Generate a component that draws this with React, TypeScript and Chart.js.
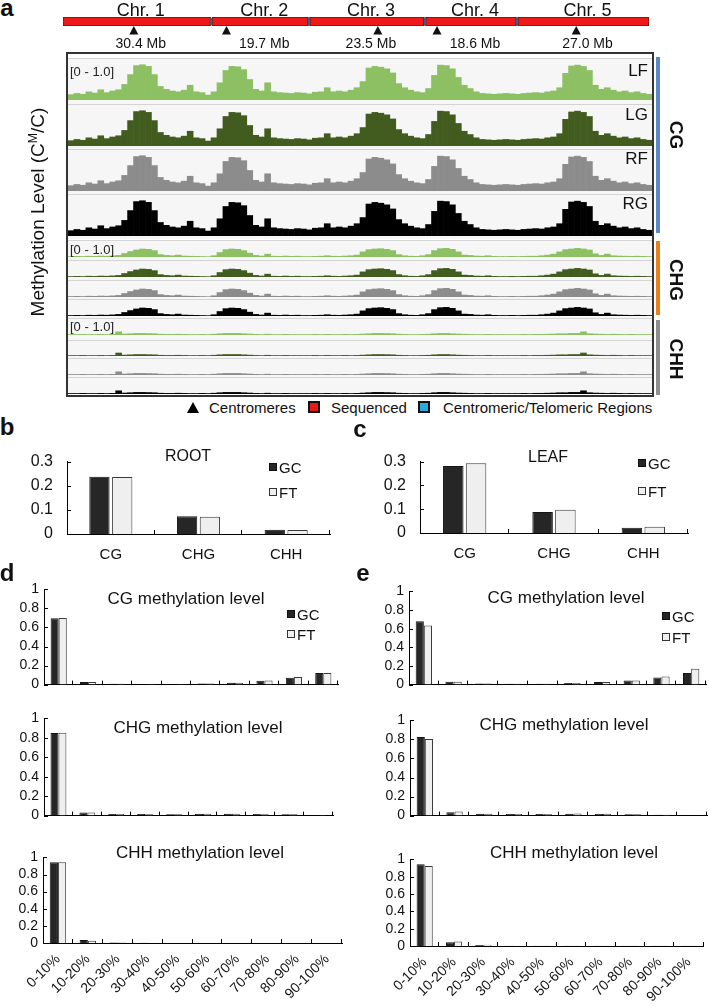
import React, { useEffect, useRef } from "react";
import { Chart, registerables } from "chart.js";

Chart.register(...registerables);

const FONT = "'Liberation Sans', Arial, Helvetica, sans-serif";

// ---------------- Panel a : chromosomes ----------------
const chrNames = ["Chr. 1", "Chr. 2", "Chr. 3", "Chr. 4", "Chr. 5"];
const chrLengthsMb = [30.4, 19.7, 23.5, 18.6, 27.0];
const centromereMb = [14.6, 2.9, 14.0, 2.3, 12.0];
const CHR_GAP = 0.4;

// ---------------- Panel a : methylation tracks (0-1, genome bins) ----------------
const trackNames = ["LF", "LG", "RF", "RG"];
const cgProfile = [
  0.13, 0.16, 0.14, 0.2, 0.17, 0.25, 0.18, 0.22, 0.25, 0.38,
  0.62, 0.84, 0.86, 0.82, 0.62, 0.33, 0.26, 0.22, 0.2, 0.24,
  0.36, 0.2, 0.18, 0.12, 0.2, 0.42, 0.72, 0.82, 0.81, 0.74,
  0.5, 0.26, 0.22, 0.42, 0.2, 0.18, 0.17, 0.16, 0.18, 0.17,
  0.15, 0.19, 0.2, 0.3, 0.2, 0.22, 0.2, 0.24, 0.3, 0.45,
  0.78, 0.82, 0.8, 0.76, 0.66, 0.4, 0.3, 0.24, 0.2, 0.18,
  0.28, 0.6, 0.85, 0.84, 0.76, 0.55, 0.36, 0.28, 0.2, 0.16,
  0.15, 0.14, 0.15, 0.16, 0.15, 0.14, 0.16, 0.17, 0.18, 0.17,
  0.2, 0.22, 0.3, 0.65, 0.83, 0.85, 0.82, 0.72, 0.36, 0.26,
  0.3, 0.24, 0.2, 0.22, 0.18, 0.2, 0.16, 0.14,
];
const chgProfile = [
  0.03, 0.04, 0.03, 0.05, 0.04, 0.06, 0.05, 0.07, 0.1, 0.22,
  0.34, 0.44, 0.5, 0.48, 0.4, 0.15, 0.1, 0.08, 0.12, 0.06,
  0.05, 0.04, 0.03, 0.02, 0.08, 0.28, 0.46, 0.5, 0.48, 0.4,
  0.24, 0.1, 0.06, 0.18, 0.05, 0.04, 0.06, 0.04, 0.05, 0.03,
  0.03, 0.04, 0.05, 0.08, 0.05, 0.04, 0.06, 0.08, 0.12, 0.32,
  0.46, 0.5, 0.52, 0.48, 0.4, 0.15, 0.08, 0.05, 0.04, 0.08,
  0.15, 0.4, 0.52, 0.54, 0.48, 0.32, 0.12, 0.1, 0.06, 0.05,
  0.08, 0.04, 0.03, 0.03, 0.04, 0.03, 0.04, 0.05, 0.05, 0.08,
  0.12, 0.18, 0.32, 0.46, 0.5, 0.54, 0.5, 0.44, 0.2, 0.1,
  0.18, 0.08, 0.06, 0.05, 0.04, 0.05, 0.04, 0.03,
];
const chhProfile = [
  0.03, 0.03, 0.04, 0.03, 0.03, 0.04, 0.03, 0.04, 0.2, 0.06,
  0.08, 0.1, 0.1, 0.09, 0.08, 0.05, 0.04, 0.04, 0.05, 0.04,
  0.03, 0.03, 0.04, 0.03, 0.05, 0.08, 0.1, 0.1, 0.1, 0.08,
  0.06, 0.04, 0.03, 0.05, 0.03, 0.03, 0.04, 0.03, 0.03, 0.03,
  0.03, 0.04, 0.03, 0.04, 0.03, 0.03, 0.04, 0.03, 0.04, 0.06,
  0.08, 0.1, 0.1, 0.09, 0.08, 0.05, 0.04, 0.03, 0.03, 0.04,
  0.05, 0.08, 0.1, 0.1, 0.08, 0.06, 0.05, 0.04, 0.03, 0.03,
  0.04, 0.03, 0.03, 0.03, 0.03, 0.03, 0.04, 0.03, 0.04, 0.04,
  0.05, 0.06, 0.08, 0.08, 0.1, 0.1, 0.2, 0.08, 0.06, 0.05,
  0.04, 0.05, 0.04, 0.03, 0.04, 0.03, 0.03, 0.03,
];

// ---------------- Panels b, c ----------------
const contexts = ["CG", "CHG", "CHH"];
const rootGC = [0.237, 0.074, 0.018];
const rootFT = [0.236, 0.071, 0.017];
const leafGC = [0.282, 0.088, 0.022];
const leafFT = [0.293, 0.098, 0.026];

// ---------------- Panels d, e ----------------
const levelBins = ["0-10%", "10-20%", "20-30%", "30-40%", "40-50%", "50-60%", "60-70%", "70-80%", "80-90%", "90-100%"];
const rootCgGC = [0.698, 0.026, 0.01, 0.007, 0.006, 0.012, 0.02, 0.04, 0.072, 0.121];
const rootCgFT = [0.7, 0.026, 0.01, 0.007, 0.006, 0.012, 0.02, 0.043, 0.079, 0.121];
const rootChgGC = [0.85, 0.032, 0.016, 0.016, 0.013, 0.019, 0.019, 0.016, 0.013, 0.006];
const rootChgFT = [0.853, 0.032, 0.016, 0.013, 0.013, 0.019, 0.019, 0.013, 0.013, 0.005];
const rootChhGC = [0.943, 0.034, 0.005, 0.003, 0, 0, 0, 0, 0, 0];
const rootChhFT = [0.943, 0.027, 0.005, 0.003, 0, 0, 0, 0, 0, 0];
const leafCgGC = [0.68, 0.03, 0.013, 0.01, 0.01, 0.017, 0.027, 0.044, 0.077, 0.124];
const leafCgFT = [0.634, 0.03, 0.013, 0.01, 0.01, 0.017, 0.027, 0.044, 0.087, 0.171];
const leafChgGC = [0.826, 0.036, 0.02, 0.016, 0.016, 0.02, 0.016, 0.013, 0.01, 0.003];
const leafChgFT = [0.804, 0.042, 0.02, 0.016, 0.016, 0.023, 0.02, 0.013, 0.01, 0.003];
const leafChhGC = [0.943, 0.042, 0.011, 0.004, 0.002, 0.002, 0.002, 0.002, 0.002, 0.002];
const leafChhFT = [0.924, 0.053, 0.015, 0.004, 0.002, 0.002, 0.002, 0.002, 0.002, 0.002];

// ---------------- derived genome coordinates ----------------
const chrStarts: number[] = [];
{
  let acc = 0;
  chrLengthsMb.forEach((l) => {
    chrStarts.push(acc);
    acc += l + CHR_GAP;
  });
}
const genomeEnd = chrStarts[chrStarts.length - 1] + chrLengthsMb[chrLengthsMb.length - 1];

// ---------------- helpers ----------------
function ChartCanvas({ left, top, width, height, make }: any) {
  const ref = useRef<HTMLCanvasElement>(null);
  useEffect(() => {
    const c = new Chart(ref.current as HTMLCanvasElement, make());
    return () => c.destroy();
  }, []);
  return (
    <canvas
      ref={ref}
      width={width}
      height={height}
      style={{ position: "absolute", left, top, width, height }}
    />
  );
}

function Txt({ x, y, children, size = 15, bold = false, align = "center", rotate = 0, color = "#111" }: any) {
  const tx = align === "left" ? "0%" : align === "right" ? "-100%" : "-50%";
  return (
    <div
      style={{
        position: "absolute",
        left: x,
        top: y,
        transform: `translate(${tx}, -50%) rotate(${rotate}deg)`,
        whiteSpace: "nowrap",
        fontFamily: FONT,
        fontSize: size,
        fontWeight: bold ? 700 : 400,
        lineHeight: 1,
        color,
      }}
    >
      {children}
    </div>
  );
}

function Box({ x, y, w, h, bg, border }: any) {
  return (
    <div
      style={{
        position: "absolute",
        left: x,
        top: y,
        width: w,
        height: h,
        background: bg,
        border,
        boxSizing: "border-box",
      }}
    />
  );
}

const inwardTicks = {
  id: "inwardTicks",
  afterDatasetsDraw(chart: any) {
    const { ctx, chartArea: a } = chart;
    const xs = chart.scales.x;
    const ys = chart.scales.y;
    ctx.save();
    ctx.strokeStyle = "#000";
    ctx.lineWidth = 1;
    ctx.beginPath();
    ys.ticks.forEach((t: any) => {
      const py = Math.round(ys.getPixelForValue(t.value)) + 0.5;
      ctx.moveTo(a.left, py);
      ctx.lineTo(a.left + 4, py);
    });
    const n = xs.getLabels().length;
    const w = (a.right - a.left) / n;
    for (let i = 1; i <= n; i++) {
      const px = Math.round(a.left + i * w) - 0.5;
      ctx.moveTo(px, a.bottom);
      ctx.lineTo(px, a.bottom - 4);
    }
    ctx.stroke();
    ctx.restore();
  },
};

function methylBar(o: any) {
  const [cl, ct, cw, ch] = o.canvas;
  const [L, T, R, B] = o.area;
  return {
    type: "bar",
    data: {
      labels: o.labels,
      datasets: [
        {
          label: "GC",
          data: o.gc,
          backgroundColor: "#262626",
          borderColor: "#151515",
          borderWidth: 1,
          categoryPercentage: o.catPct,
          barPercentage: o.barPct,
        },
        {
          label: "FT",
          data: o.ft,
          backgroundColor: "#EFEFEF",
          borderColor: "#3a3a3a",
          borderWidth: 1,
          categoryPercentage: o.catPct,
          barPercentage: o.barPct,
        },
      ],
    },
    options: {
      animation: false,
      responsive: false,
      devicePixelRatio: 1,
      events: [],
      layout: { padding: { left: 0, top: T - ct, right: cl + cw - R, bottom: 0 } },
      plugins: { legend: { display: false }, tooltip: { enabled: false } },
      scales: {
        x: {
          grid: { display: false, drawTicks: false },
          border: { color: "#000", width: 1 },
          ticks: {
            display: o.showX,
            font: { family: FONT, size: o.xFont },
            color: "#111",
            padding: o.xPad,
            maxRotation: o.rotate,
            minRotation: o.rotate,
            autoSkip: false,
          },
          afterFit: (s: any) => {
            s.height = ct + ch - B;
          },
        },
        y: {
          min: 0,
          max: o.max,
          grid: { display: false, drawTicks: false },
          border: { color: "#000", width: 1 },
          ticks: {
            stepSize: o.step,
            autoSkip: false,
            font: { family: FONT, size: o.yFont },
            color: "#111",
            padding: o.yPad,
            callback: (v: any) => String(Math.round(Number(v) * 100) / 100),
          },
          afterFit: (s: any) => {
            s.width = L - cl;
          },
        },
      },
    },
    plugins: [inwardTicks],
  };
}

const ideogramLabels = {
  id: "ideogramLabels",
  afterDatasetsDraw(chart: any) {
    const { ctx } = chart;
    const xs = chart.scales.x;
    ctx.save();
    ctx.fillStyle = "#111";
    ctx.textAlign = "center";
    ctx.textBaseline = "middle";
    chrNames.forEach((name, i) => {
      const s = chrStarts[i];
      const e = s + chrLengthsMb[i];
      const cx = xs.getPixelForValue((s + e) / 2) + 4;
      ctx.font = `18px ${FONT}`;
      ctx.fillText(name, cx, 11);
      ctx.font = `14px ${FONT}`;
      ctx.fillText(`${chrLengthsMb[i].toFixed(1)} Mb`, cx, 44);
      const px = xs.getPixelForValue(s + centromereMb[i]);
      ctx.beginPath();
      ctx.moveTo(px, 26);
      ctx.lineTo(px - 4.5, 34.5);
      ctx.lineTo(px + 4.5, 34.5);
      ctx.closePath();
      ctx.fill();
    });
    ctx.restore();
  },
};

function ideogramConfig() {
  const arms = chrLengthsMb.map((l, i) => ({ x: [chrStarts[i], chrStarts[i] + l], y: "g" }));
  const caps: any[] = [];
  chrLengthsMb.forEach((l, i) => {
    const s = chrStarts[i];
    caps.push({ x: [s - 0.2, s + 0.7], y: "g" });
    caps.push({ x: [s + centromereMb[i] - 0.7, s + centromereMb[i] + 0.7], y: "g" });
    caps.push({ x: [s + l - 0.7, s + l + 0.2], y: "g" });
  });
  return {
    type: "bar",
    data: {
      labels: ["g"],
      datasets: [
        {
          data: arms,
          backgroundColor: "#EE1A1A",
          borderColor: "#7A1010",
          borderWidth: 1,
          borderSkipped: false,
          grouped: false,
          categoryPercentage: 1,
          barPercentage: 1,
        },
        {
          data: caps,
          backgroundColor: "#36A9E1",
          borderColor: "#1F5E8C",
          borderWidth: 1,
          borderSkipped: false,
          borderRadius: 3,
          grouped: false,
          categoryPercentage: 1,
          barPercentage: 1,
        },
      ],
    },
    options: {
      indexAxis: "y",
      animation: false,
      responsive: false,
      devicePixelRatio: 1,
      events: [],
      layout: { padding: { left: 63, right: 60, top: 17, bottom: 26 } },
      plugins: { legend: { display: false }, tooltip: { enabled: false } },
      scales: {
        x: { type: "linear", min: 0, max: genomeEnd, display: false },
        y: { type: "category", display: false },
      },
    },
    plugins: [ideogramLabels],
  };
}

function trackConfig(values: number[], color: string) {
  return {
    type: "bar",
    data: {
      labels: values.map((_, i) => String(i)),
      datasets: [
        {
          data: values,
          backgroundColor: color,
          borderWidth: 0,
          categoryPercentage: 1,
          barPercentage: 1,
        },
      ],
    },
    options: {
      animation: false,
      responsive: false,
      devicePixelRatio: 1,
      events: [],
      layout: { padding: 0 },
      plugins: { legend: { display: false }, tooltip: { enabled: false } },
      scales: {
        x: { display: false },
        y: { display: false, min: 0, max: 1 },
      },
    },
  };
}

// layout constants for panel a
const TRACK_LEFT = 68;
const TRACK_W = 584;
const trackColors = ["#8CC063", "#425C1F", "#8C8C8C", "#000000"];
const trackGroups = [
  { profile: cgProfile, tops: [58, 104, 149, 194], ends: [104, 149, 194, 239], barH: [41, 41, 41, 41] },
  { profile: chgProfile, tops: [240, 260, 280, 299], ends: [260, 280, 299, 318], barH: [16, 16, 16, 16] },
  { profile: chhProfile, tops: [318, 340, 358, 377], ends: [340, 358, 377, 394], barH: [16, 15, 16, 16] },
];

function GcFtLegend({ x, yGC, yFT, size = 15 }: any) {
  return (
    <>
      <Box x={x} y={yGC - 4} w={8} h={8} bg="#262626" border="1px solid #111" />
      <Txt x={x + 10} y={yGC} size={size} align="left">GC</Txt>
      <Box x={x} y={yFT - 4} w={8} h={8} bg="#EFEFEF" border="1px solid #333" />
      <Txt x={x + 10} y={yFT} size={size} align="left">FT</Txt>
    </>
  );
}

export default function App() {
  const tracks: any[] = [];
  trackGroups.forEach((g, gi) => {
    g.tops.forEach((top, ti) => {
      tracks.push(
        <div
          key={`bg${gi}-${ti}`}
          style={{
            position: "absolute",
            left: TRACK_LEFT,
            top,
            width: TRACK_W,
            height: g.ends[ti] - top,
            background: "#F6F6F6",
            borderTop: "1px solid #D4D4D4",
            boxSizing: "border-box",
          }}
        />
      );
      tracks.push(
        <ChartCanvas
          key={`tr${gi}-${ti}`}
          left={TRACK_LEFT}
          top={top + 1}
          width={TRACK_W}
          height={g.barH[ti]}
          make={() => trackConfig(g.profile, trackColors[ti])}
        />
      );
    });
  });

  return (
    <div
      style={{
        position: "absolute",
        left: 0,
        top: 0,
        width: 709,
        height: 1007,
        background: "#fff",
        overflow: "hidden",
      }}
    >
      {/* ---------- panel a ---------- */}
      <Txt x={7} y={8} size={24} bold>a</Txt>
      <ChartCanvas left={0} top={0} width={709} height={52} make={ideogramConfig} />
      <Box x={66} y={52} w={588} h={345} bg="#fff" border="2px solid #333" />
      {tracks}
      <Txt x={70} y={71} size={13} align="left" color="#222">[0 - 1.0]</Txt>
      <Txt x={70} y={249} size={13} align="left" color="#222">[0 - 1.0]</Txt>
      <Txt x={70} y={326} size={13} align="left" color="#222">[0 - 1.0]</Txt>
      {trackNames.map((n, i) => (
        <Txt key={n} x={648} y={[70, 114, 158, 203][i]} size={17} align="right">
          {n}
        </Txt>
      ))}
      <Box x={656} y={57} w={4} h={176} bg="#5A8AC6" />
      <Box x={656} y={241} w={4} h={74} bg="#E8801F" />
      <Box x={656} y={320} w={4} h={75} bg="#8E8E8E" />
      <Txt x={676} y={135} size={19} bold rotate={90}>CG</Txt>
      <Txt x={676} y={280} size={19} bold rotate={90}>CHG</Txt>
      <Txt x={676} y={359} size={19} bold rotate={90}>CHH</Txt>
      <Txt x={37} y={212} size={19} rotate={-90}>
        Methylation Level (C<sup style={{ fontSize: "0.65em", verticalAlign: "0.55em" }}>M</sup>/C)
      </Txt>
      {/* legend */}
      <div
        style={{
          position: "absolute",
          left: 187,
          top: 402,
          width: 0,
          height: 0,
          borderLeft: "6.5px solid transparent",
          borderRight: "6.5px solid transparent",
          borderBottom: "11px solid #000",
        }}
      />
      <Txt x={209} y={407} size={15} align="left">Centromeres</Txt>
      <Box x={308} y={401} w={12} h={12} bg="#E81818" border="2px solid #111" />
      <Txt x={331} y={407} size={15} align="left">Sequenced</Txt>
      <Box x={418} y={401} w={12} h={12} bg="#2AA8E0" border="2px solid #111" />
      <Txt x={443} y={407} size={15} align="left">Centromeric/Telomeric Regions</Txt>

      {/* ---------- panel b ---------- */}
      <Txt x={7} y={427} size={24} bold>b</Txt>
      <ChartCanvas
        left={0}
        top={438}
        width={345}
        height={132}
        make={() =>
          methylBar({
            labels: contexts, gc: rootGC, ft: rootFT, max: 0.3, step: 0.1,
            canvas: [0, 438, 345, 132], area: [67, 450, 330, 534],
            yFont: 16, yPad: 14, xFont: 15, xPad: 12, showX: true, rotate: 0,
            catPct: 0.52, barPct: 0.89,
          })
        }
      />
      <Txt x={188} y={456} size={16}>ROOT</Txt>
      <GcFtLegend x={269} yGC={467} yFT={492} />

      {/* ---------- panel c ---------- */}
      <Txt x={360} y={429} size={24} bold>c</Txt>
      <ChartCanvas
        left={355}
        top={438}
        width={345}
        height={132}
        make={() =>
          methylBar({
            labels: contexts, gc: leafGC, ft: leafFT, max: 0.3, step: 0.1,
            canvas: [355, 438, 345, 132], area: [420, 450, 688, 533],
            yFont: 16, yPad: 14, xFont: 15, xPad: 12, showX: true, rotate: 0,
            catPct: 0.51, barPct: 0.9,
          })
        }
      />
      <Txt x={548} y={457} size={16}>LEAF</Txt>
      <GcFtLegend x={638} yGC={463} yFT={491} />

      {/* ---------- panel d ---------- */}
      <Txt x={7} y={573} size={24} bold>d</Txt>
      <ChartCanvas
        left={0} top={576} width={350} height={122}
        make={() =>
          methylBar({
            labels: levelBins, gc: rootCgGC, ft: rootCgFT, max: 1, step: 0.2,
            canvas: [0, 576, 350, 122], area: [44, 588, 338, 690],
            yFont: 14, yPad: 5, xFont: 14, xPad: 6, showX: false, rotate: 45,
            catPct: 0.55, barPct: 1,
          })
        }
      />
      <Txt x={186} y={598} size={17}>CG methylation level</Txt>
      <GcFtLegend x={287} yGC={614} yFT={634} />
      <ChartCanvas
        left={0} top={705} width={350} height={124}
        make={() =>
          methylBar({
            labels: levelBins, gc: rootChgGC, ft: rootChgFT, max: 1, step: 0.2,
            canvas: [0, 705, 350, 124], area: [44, 717, 333, 821],
            yFont: 14, yPad: 5, xFont: 14, xPad: 6, showX: false, rotate: 45,
            catPct: 0.55, barPct: 1,
          })
        }
      />
      <Txt x={198} y={727} size={17}>CHG methylation level</Txt>
      <ChartCanvas
        left={0} top={844} width={352} height={163}
        make={() =>
          methylBar({
            labels: levelBins, gc: rootChhGC, ft: rootChhFT, max: 1, step: 0.2,
            canvas: [0, 844, 352, 163], area: [43, 856, 342, 943],
            yFont: 14, yPad: 5, xFont: 14, xPad: 8, showX: true, rotate: 45,
            catPct: 0.55, barPct: 1,
          })
        }
      />
      <Txt x={200} y={852} size={17}>CHH methylation level</Txt>

      {/* ---------- panel e ---------- */}
      <Txt x={363} y={573} size={24} bold>e</Txt>
      <ChartCanvas
        left={360} top={578} width={349} height={120}
        make={() =>
          methylBar({
            labels: levelBins, gc: leafCgGC, ft: leafCgFT, max: 1, step: 0.2,
            canvas: [360, 578, 349, 120], area: [409, 590, 706, 689],
            yFont: 14, yPad: 5, xFont: 14, xPad: 6, showX: false, rotate: 45,
            catPct: 0.55, barPct: 1,
          })
        }
      />
      <Txt x={566} y={597} size={17}>CG methylation level</Txt>
      <GcFtLegend x={662} yGC={616} yFT={637} />
      <ChartCanvas
        left={360} top={707} width={349} height={122}
        make={() =>
          methylBar({
            labels: levelBins, gc: leafChgGC, ft: leafChgFT, max: 1, step: 0.2,
            canvas: [360, 707, 349, 122], area: [410, 719, 707, 821],
            yFont: 14, yPad: 5, xFont: 14, xPad: 6, showX: false, rotate: 45,
            catPct: 0.55, barPct: 1,
          })
        }
      />
      <Txt x={564} y={724} size={17}>CHG methylation level</Txt>
      <ChartCanvas
        left={360} top={846} width={349} height={161}
        make={() =>
          methylBar({
            labels: levelBins, gc: leafChhGC, ft: leafChhFT, max: 1, step: 0.2,
            canvas: [360, 846, 349, 161], area: [410, 858, 705, 946],
            yFont: 14, yPad: 5, xFont: 14, xPad: 8, showX: true, rotate: 45,
            catPct: 0.55, barPct: 1,
          })
        }
      />
      <Txt x={574} y={852} size={17}>CHH methylation level</Txt>
    </div>
  );
}
